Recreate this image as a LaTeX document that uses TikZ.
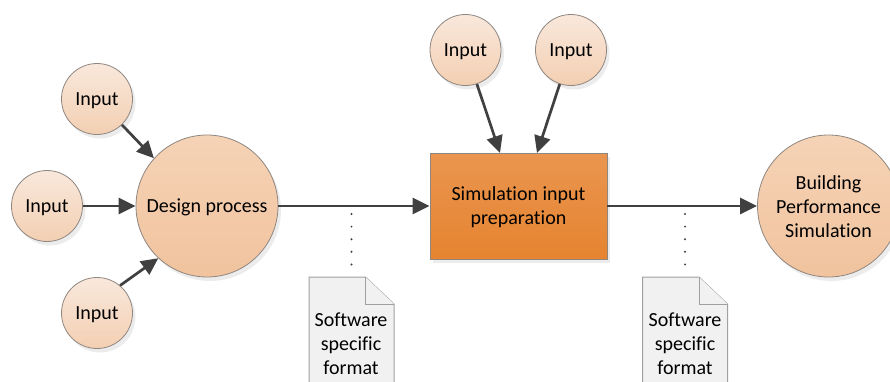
\documentclass[tikz,border=0pt]{standalone}
\usepackage{fontspec}
\setmainfont[RawFeature={-liga}]{Carlito}
\usetikzlibrary{arrows.meta,shadows,calc}
\definecolor{lineC}{HTML}{404040}
\definecolor{edgeC}{HTML}{8F8680}
\definecolor{myLightTop}{HTML}{F9E8DC}
\definecolor{myLightBot}{HTML}{F3CFB2}
\definecolor{myBigTop}{HTML}{F5D3B6}
\definecolor{myBigBot}{HTML}{F1C39E}
\definecolor{myBoxTop}{HTML}{E9954F}
\definecolor{myBoxBot}{HTML}{E68430}
\definecolor{docFill}{HTML}{F1F1F1}
\definecolor{docEdge}{HTML}{A0A0A0}
\tikzset{
  x=1pt,y=-1pt,
  every node/.style={font=\fontsize{20}{24}\selectfont,text=black,align=center,inner sep=0pt},
  softshadow/.style={general shadow={fill=black!12,shadow xshift=3pt,shadow yshift=-4pt,opacity=.6}},
  inputc/.style={circle,minimum size=71pt,draw=edgeC,line width=.8pt,top color=myLightTop,bottom color=myLightBot,softshadow,label={[yshift=-2pt]center:Input}},
  bigc/.style={circle,minimum size=142pt,draw=edgeC,line width=.8pt,top color=myBigTop,bottom color=myBigBot,softshadow},
  boxn/.style={rectangle,minimum width=177pt,minimum height=106pt,draw=edgeC,line width=.8pt,top color=myBoxTop,bottom color=myBoxBot,softshadow},
  flow/.style={draw=lineC,line width=2.7pt,-{Triangle[length=17pt,width=16pt]}},
  dotl/.style={draw=lineC,line width=2.2pt,line cap=round,dash pattern=on 0pt off 12.6pt},
  docshape/.style={draw=docEdge,line width=1pt,fill=docFill},
}
\begin{document}
\begin{tikzpicture}
\useasboundingbox (0,0) rectangle (890,381);
\node[inputc] (i1) at (97,99) {};
\node[inputc] (i2) at (47,206) {};
\node[inputc] (i3) at (97,313) {};
\node[bigc,label={[yshift=-1.5pt]center:Design process}] (dp) at (207,206) {};
\node[inputc] (i4) at (465.5,50) {};
\node[inputc] (i5) at (571,50) {};
\node[boxn,label={[yshift=-1.5pt]center:Simulation input\\preparation}] (sim) at (518.5,206) {};
\node[bigc,label={[yshift=-.8pt]center:Building\\Performance\\Simulation}] (bps) at (828.5,206) {};
% documents
\coordinate (d1) at (351.5,277);
\coordinate (d2) at (685,277);
\foreach \c in {d1,d2}{
  \path[docshape] ($(\c)+(-42.5,0)$) -- ($(\c)+(14,0)$) -- ($(\c)+(42.5,27)$) -- ($(\c)+(42.5,110)$) -- ($(\c)+(-42.5,110)$) -- cycle;
  \path[docshape] ($(\c)+(14,0)$) -- ($(\c)+(14,27)$) -- ($(\c)+(42.5,27)$);
}
\node (t1) at (351,344) {Software\\specific\\format};
\node (t2) at (685,344) {Software\\specific\\format};
\coordinate (s1) at (351.5,214);
\coordinate (s2) at (685,214);
\path[dotl] (s1) -- (d1);
\path[dotl] (s2) -- (d2);
% arrows
\path[flow] (i1.-46) -- (dp.138);
\path[flow] (i2) -- (dp);
\path[flow] (i3.50) -- (dp.227);
\path[flow] (dp) -- (sim);
\path[flow] (sim) -- (bps);
\coordinate (e4) at (500,153);
\coordinate (e5) at (537,153);
\path[flow] (i4) -- (e4);
\path[flow] (i5) -- (e5);
\end{tikzpicture}
\end{document}
